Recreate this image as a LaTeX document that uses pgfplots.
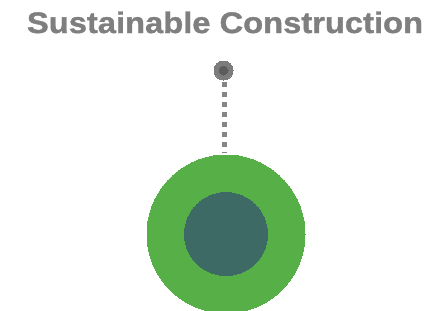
\documentclass[border=0pt]{standalone}
\usepackage{pgfplots}
\pgfplotsset{compat=1.18}
\usepackage{fontspec}
\setmainfont{Liberation Sans}
\newfontfamily\titlefont[FakeBold=1.2]{Liberation Sans Bold}
\usepackage{graphicx}
\definecolor{ttl}{HTML}{7F7F7F}
\definecolor{outergreen}{HTML}{56B047}
\definecolor{innerteal}{HTML}{3D6A64}
\definecolor{dotgray}{HTML}{858585}
\definecolor{pinout}{HTML}{7C7C7C}
\definecolor{pinin}{HTML}{5C5C5C}
\begin{document}
\begin{tikzpicture}
\begin{axis}[
  scale only axis, width=439bp, height=311bp,
  xmin=0, xmax=439, ymin=0, ymax=311, y dir=reverse,
  hide axis, clip marker paths=true,
]
% dotted connector
\addplot[dotgray, line width=5bp, dash pattern=on 5bp off 5bp] coordinates {(224.3,82) (224.3,153)};
% pin
\addplot[pinout, only marks, mark=*, mark size=9.5bp, mark options={draw=pinout, fill=pinout, line width=0pt}] coordinates {(223.5,70.5)};
\addplot[pinin, only marks, mark=*, mark size=4.5bp, mark options={draw=pinin, fill=pinin, line width=0pt}] coordinates {(223.5,70.5)};
% circles
\addplot[outergreen, only marks, mark=*, mark size=79bp, mark options={draw=outergreen, fill=outergreen, line width=0pt}] coordinates {(226,234)};
\addplot[innerteal, only marks, mark=*, mark size=41.5bp, mark options={draw=innerteal, fill=innerteal, line width=0pt}] coordinates {(226,234)};
\node[anchor=south, inner sep=0pt, text=ttl] at (axis cs:225,33.5) {\resizebox{396bp}{21.5bp}{\titlefont Sustainable Construction}};
\end{axis}
\pgfresetboundingbox
\path[use as bounding box] (current axis.south west) rectangle (current axis.north east);
\end{tikzpicture}
\end{document}
